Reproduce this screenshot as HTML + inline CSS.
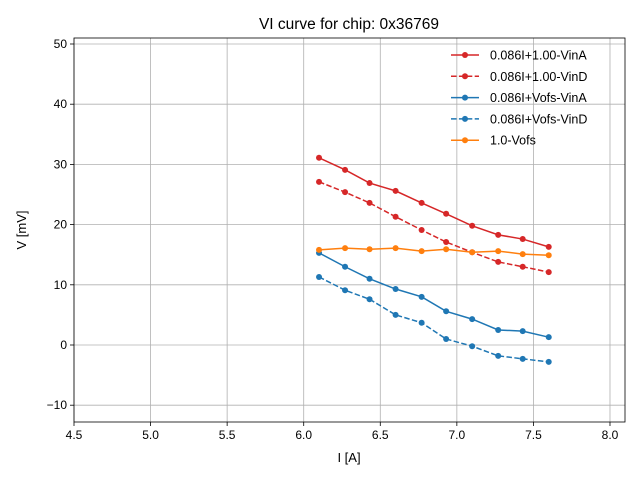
<!DOCTYPE html>
<html><head><meta charset="utf-8"><style>
body{margin:0;background:#fff;}
svg{font-family:"Liberation Sans","DejaVu Sans",sans-serif;}
</style></head><body>
<svg id="chart" width="640" height="480"></svg>
<script>
const xs=[6.1,6.27,6.43,6.6,6.77,6.93,7.1,7.27,7.43,7.6];
const redSolid=[31.1,29.1,26.9,25.6,23.6,21.8,19.8,18.3,17.6,16.3];
const redDashed=[27.1,25.4,23.6,21.3,19.1,17.1,15.4,13.8,13.0,12.1];
const blueSolid=[15.3,13.0,11.0,9.3,8.0,5.6,4.3,2.5,2.3,1.3];
const blueDashed=[11.3,9.1,7.6,5.0,3.7,1.0,-0.2,-1.8,-2.3,-2.8];
const orange=[15.8,16.1,15.9,16.1,15.6,15.9,15.4,15.6,15.1,14.9];
const xTicks=[4.5,5.0,5.5,6.0,6.5,7.0,7.5,8.0];
const yTicks=[-10,0,10,20,30,40,50];
const seriesNames=["0.086I+1.00-VinA","0.086I+1.00-VinD","0.086I+Vofs-VinA","0.086I+Vofs-VinD","1.0-Vofs"];

const L=74,R=625,T=38,B=422;
const X=v=>L+(v-4.5)*153.14;
const Y=v=>345-v*6.02;
const svg=document.getElementById('chart');
const NS='http://www.w3.org/2000/svg';
function mk(t,a,p){const e=document.createElementNS(NS,t);for(const k in a)e.setAttribute(k,a[k]);(p||svg).appendChild(e);return e;}

// grid + ticks
xTicks.forEach(t=>{
  const g=mk('line',{x1:X(t),x2:X(t),y1:T,y2:B,stroke:'#b0b0b0','stroke-width':0.8});
  
  
  mk('line',{x1:X(t),x2:X(t),y1:B,y2:B+4,stroke:'#000','stroke-width':0.8});
  const tx=mk('text',{x:X(t),y:B+17,'text-anchor':'middle','font-size':12});
  tx.textContent=t.toFixed(1);
  
  
});
yTicks.forEach(t=>{
  const g=mk('line',{x1:L,x2:R,y1:Y(t),y2:Y(t),stroke:'#b0b0b0','stroke-width':0.8});
  
  
  mk('line',{x1:L-4,x2:L,y1:Y(t),y2:Y(t),stroke:'#000','stroke-width':0.8});
  const tx=mk('text',{x:L-7,y:Y(t)+4,'text-anchor':'end','font-size':12});
  tx.textContent=t<0?'\u2212'+Math.abs(t):String(t);
  
  
});
const frame=mk('rect',{x:L,y:T,width:R-L,height:B-T,fill:'none',stroke:'#000','stroke-width':0.8});



const series=[
 {d:redSolid,c:'#d62728',dash:null},
 {d:redDashed,c:'#d62728',dash:'5.5,2.4'},
 {d:blueSolid,c:'#1f77b4',dash:null},
 {d:blueDashed,c:'#1f77b4',dash:'5.5,2.4'},
 {d:orange,c:'#ff7f0e',dash:null}
];
series.forEach((s,i)=>{
  const g=mk('g',{});
  
  
  const pts=s.d.map((v,j)=>X(xs[j])+','+Y(v)).join(' ');
  const a={points:pts,fill:'none',stroke:s.c,'stroke-width':1.5};
  if(s.dash)a['stroke-dasharray']=s.dash;
  mk('polyline',a,g);
  s.d.forEach((v,j)=>{
    const c=mk('circle',{cx:X(xs[j]),cy:Y(v),r:3,fill:s.c},g);
    
    
  });
  // legend
  const ly=55+i*21.3;
  const lg=mk('g',{});
  
  
  const la={x1:451,x2:479,y1:ly,y2:ly,stroke:s.c,'stroke-width':1.5};
  if(s.dash)la['stroke-dasharray']=s.dash;
  mk('line',la,lg);
  mk('circle',{cx:465,cy:ly,r:3,fill:s.c},lg);
  const t=mk('text',{x:490,y:ly+4.5,'font-size':12.5},lg);
  t.textContent=seriesNames[i];
});

const title=mk('text',{x:349,y:29,'text-anchor':'middle','font-size':15.5});
title.textContent='VI curve for chip: 0x36769';


const xl=mk('text',{x:349,y:462,'text-anchor':'middle','font-size':13});
xl.textContent='I [A]';


const yl=mk('text',{x:26,y:230,'text-anchor':'middle','font-size':13,transform:'rotate(-90 26 230)'});
yl.textContent='V [mV]';


</script>
</body></html>
